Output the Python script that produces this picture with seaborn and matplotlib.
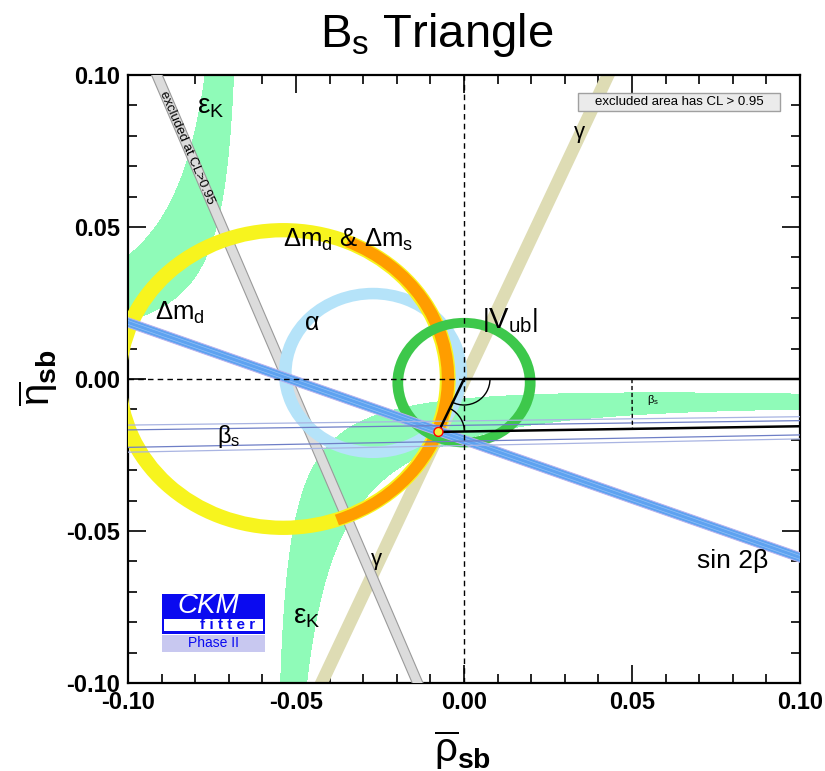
import numpy as np
import pandas as pd
import matplotlib
matplotlib.use("Agg")
import matplotlib.pyplot as plt
import seaborn as sns
from matplotlib.patches import Wedge, Rectangle, Arc, Ellipse, Polygon

# ---------------------------------------------------------------- data
ticks_major = [-0.10, -0.05, 0.00, 0.05, 0.10]
tick_labels = ["-0.10", "-0.05", "0.00", "0.05", "0.10"]
ticks_minor = [-0.09, -0.08, -0.07, -0.06, -0.04, -0.03, -0.02, -0.01,
               0.01, 0.02, 0.03, 0.04, 0.06, 0.07, 0.08, 0.09]

# best-fit apex of the Bs triangle and its far vertex
apex_rho, apex_eta = -0.0076, -0.0174
far_rho, far_eta = 1.0, 0.0

# ring constraints: centre rho, centre eta, inner radius, outer radius
dmd_ring = [-0.0538, 0.0, 0.0466, 0.0513]
dmds_ring = [-0.0538, 0.0, 0.0472, 0.0509]
dmds_span = [-71.0, 67.0]          # degrees covered by the Delta m_d & Delta m_s band
alpha_ring = [-0.0271, 0.0020, 0.0242, 0.0280]
vub_ring = [0.0, -0.0012, 0.0181, 0.0213]

# straight bands: centre-line end points and half widths
gamma_rho = [-0.0424, 0.0429]
gamma_eta = [-0.10, 0.10]
gamma_hw = 0.0021
sin2b_rho = [-0.10, 0.10]
sin2b_eta = [0.0186, -0.0587]
sin2b_hw = 0.0016
excl_rho = [-0.0914, -0.0138]
excl_eta = [0.10, -0.10]
excl_hw = 0.0016

# beta_s: slopes of the rays leaving the far vertex
betas_inner = [0.01522, 0.02044]
betas_outer = [0.01378, 0.02189]

# eps_K band centre line, both branches
eps_lo_rho = [-0.0491, -0.0491, -0.0485, -0.0455, -0.0399, -0.0330,
              -0.0152, 0.0048, 0.0345, 0.0991]
eps_lo_eta = [-0.0997, -0.0793, -0.0661, -0.0497, -0.0388, -0.0276,
              -0.0194, -0.0118, -0.0102, -0.0072]
eps_up_rho = [-0.0708, -0.0786, -0.0869, -0.0914, -0.0952]
eps_up_eta = [0.1000, 0.0720, 0.0500, 0.0391, 0.0283]

# colours
c_eps = "#8ffbb8"
c_dmd = "#f7f41e"
c_dmds = "#ff9d00"
c_alpha = "#b5e3f9"
c_vub = "#3dc84b"
c_gamma = "#dedcb4"
c_sin2b = "#5ea2f0"
c_sin2b_edge = "#b9b2ee"
c_sin2b_inner = "#93c0f6"
c_excl = "#dcdcdc"
c_excl_edge = "#9a9a9a"
c_logo = "#0a0af0"
c_logo_light = "#c8c8f0"

# ---------------------------------------------------------------- style
sns.set_theme(style="ticks")
plt.rcParams["font.family"] = ["Liberation Sans", "DejaVu Sans"]
plt.rcParams.update({
    "mathtext.fontset": "custom",
    "mathtext.rm": "Liberation Sans",
    "mathtext.it": "Liberation Sans:italic",
    "mathtext.bf": "Liberation Sans:bold",
    "mathtext.sf": "Liberation Sans",
    "mathtext.default": "rm",
    "axes.edgecolor": "black",
    "xtick.color": "black",
    "ytick.color": "black",
    "text.color": "black",
    "axes.grid": False,
})

fig = plt.figure(figsize=(8.25, 7.71), dpi=100)
ax = fig.add_axes([128 / 825, 1 - 683 / 771, 672 / 825, 608 / 771])
ax.set_xlim(-0.1, 0.1)
ax.set_ylim(-0.1, 0.1)
sx = ax.bbox.width / 0.2   # pixels per unit
sy = ax.bbox.height / 0.2

# ---------------------------------------------------------------- eps_K (conic fit of the centre line)
ex = np.r_[eps_lo_rho, eps_up_rho] * 10
ey = np.r_[eps_lo_eta, eps_up_eta] * 10
design = np.column_stack([ex ** 2, ex * ey, ey ** 2, ex, ey, np.ones_like(ex)])
coef = np.linalg.svd(design)[2][-1]


def conic(x, y):
    X, Y = 10 * x, 10 * y
    a, b, c, d, e, f = coef
    return a * X * X + b * X * Y + c * Y * Y + d * X + e * Y + f


def conic_grad_px(x, y):
    X, Y = 10 * x, 10 * y
    a, b, c, d, e, f = coef
    gx = 10 * (2 * a * X + b * Y + d) / sx
    gy = 10 * (b * X + 2 * c * Y + e) / sy
    return np.hypot(gx, gy)


delta = 13.0 * conic_grad_px(eps_lo_rho[0], eps_lo_eta[0])
gx_, gy_ = np.meshgrid(np.linspace(-0.102, 0.102, 1400), np.linspace(-0.102, 0.102, 1400))
ax.contourf(gx_, gy_, conic(gx_, gy_), levels=[-delta, delta], colors=[c_eps], zorder=1)


# ---------------------------------------------------------------- straight bands
def vertical_band(rho, eta, hw, fc, ec=None, z=2):
    poly = [(rho[0] - hw, eta[0]), (rho[1] - hw, eta[1]),
            (rho[1] + hw, eta[1]), (rho[0] + hw, eta[0])]
    ax.add_patch(Polygon(poly, closed=True, fc=fc, ec="none", zorder=z))
    if ec:
        for s in (-hw, hw):
            ax.plot([rho[0] + s, rho[1] + s], eta, color=ec, lw=0.8, zorder=z)


def horizontal_band(rho, eta, hw, fc, ec, inner, z=2):
    poly = [(rho[0], eta[0] - hw), (rho[1], eta[1] - hw),
            (rho[1], eta[1] + hw), (rho[0], eta[0] + hw)]
    ax.add_patch(Polygon(poly, closed=True, fc=fc, ec="none", zorder=z))
    for s in (-hw, hw):
        ax.plot(rho, [eta[0] + s, eta[1] + s], color=ec, lw=0.7, zorder=z)
    for s in (-0.4 * hw, 0.4 * hw):
        ax.plot(rho, [eta[0] + s, eta[1] + s], color=inner, lw=0.5, zorder=z)


vertical_band(gamma_rho, gamma_eta, gamma_hw, c_gamma, z=2)
vertical_band(excl_rho, excl_eta, excl_hw, c_excl, c_excl_edge, z=3)


# ---------------------------------------------------------------- rings
def ring(spec, fc, z, span=(0, 360)):
    cx, cy, rin, rout = spec
    ax.add_patch(Wedge((cx, cy), rout, span[0], span[1], width=rout - rin,
                       fc=fc, ec="none", zorder=z))


ring(alpha_ring, c_alpha, 3.5)
ring(dmd_ring, c_dmd, 4)
ring(dmds_ring, c_dmds, 5, dmds_span)
ring(vub_ring, c_vub, 7)

horizontal_band(sin2b_rho, sin2b_eta, sin2b_hw, c_sin2b, c_sin2b_edge, c_sin2b_inner, z=8)

# ---------------------------------------------------------------- beta_s rays from the far vertex
xr = np.array([-0.1, 0.1])
rows = []
for grp, slopes in (("inner", betas_inner), ("outer", betas_outer)):
    for i, s in enumerate(slopes):
        for x in xr:
            rows.append({"rho": x, "eta": far_eta - s * (far_rho - x), "ray": f"{grp}{i}", "grp": grp})
rays = pd.DataFrame(rows)
sns.lineplot(data=rays[rays.grp == "inner"], x="rho", y="eta", units="ray", estimator=None,
             color="#6e7ec6", lw=0.9, ax=ax, zorder=9)
sns.lineplot(data=rays[rays.grp == "outer"], x="rho", y="eta", units="ray", estimator=None,
             color="#a9b4e2", lw=0.9, ax=ax, zorder=9)

# ---------------------------------------------------------------- axes of the plane
ax.axvline(0.0, color="black", lw=1.0, ls=(0, (4, 3)), zorder=10)
ax.plot([-0.1, 0.0], [0.0, 0.0], color="black", lw=1.0, ls=(0, (4, 3)), zorder=10)

# ---------------------------------------------------------------- triangle
tri_rho = [0.0, far_rho, apex_rho, 0.0]
tri_eta = [0.0, far_eta, apex_eta, 0.0]
sns.lineplot(x=tri_rho, y=tri_eta, sort=False, estimator=None, color="black", lw=1.8,
             ax=ax, zorder=11)

o_px = ax.transData.transform((0.0, 0.0))
a_px = ax.transData.transform((apex_rho, apex_eta))
f_px = ax.transData.transform((far_rho, far_eta))
ang_oa = np.degrees(np.arctan2(a_px[1] - o_px[1], a_px[0] - o_px[0]))
ang_ao = np.degrees(np.arctan2(o_px[1] - a_px[1], o_px[0] - a_px[0]))
ang_af = np.degrees(np.arctan2(f_px[1] - a_px[1], f_px[0] - a_px[0]))
R = 26.0
ax.add_patch(Arc((0.0, 0.0), 2 * R / sx, 2 * R / sy, theta1=ang_oa, theta2=0.0,
                 color="black", lw=1.0, zorder=11))
ax.add_patch(Arc((apex_rho, apex_eta), 2 * R / sx, 2 * R / sy, theta1=ang_af, theta2=ang_ao,
                 color="black", lw=1.0, zorder=11))
ax.add_patch(Ellipse((apex_rho, apex_eta), 9 / sx, 9 / sy, fc="#f3f03c", ec="red",
                     lw=1.0, zorder=12))

# beta_s angle mark at the far vertex
bs = np.arctan2(far_eta - apex_eta, far_rho - apex_rho)
th = np.linspace(0.0, bs, 30)
ax.plot(far_rho - 0.95 * np.cos(th), far_eta - 0.95 * np.sin(th), color="black",
        lw=1.0, ls=(0, (3, 2)), zorder=11)

# ---------------------------------------------------------------- labels
lab = dict(zorder=13, va="baseline", ha="left")
ax.text(-0.0795, 0.0875, r"$ε_K$", fontsize=20, **lab)
ax.text(-0.0509, -0.0803, r"$ε_K$", fontsize=20, **lab)
ax.text(-0.0539, 0.0435, r"$Δm_d$ & $Δm_s$", fontsize=18.5, **lab)
ax.text(-0.0920, 0.0194, r"$Δm_d$", fontsize=18.5, **lab)
ax.text(-0.0452, 0.0161, "α", ha="center", fontsize=18, zorder=13, va="baseline")
ax.text(0.0054, 0.0168, r"$\left|V_{ub}\right|$", fontsize=21, **lab)
ax.text(0.0345, 0.0793, "γ", ha="center", fontsize=16, zorder=13, va="baseline")
ax.text(-0.0259, -0.0612, "γ", ha="center", fontsize=16, zorder=13, va="baseline")
ax.text(-0.0735, -0.0211, r"$β_s$", fontsize=17, **lab)
ax.text(0.0545, -0.0079, r"$β_s$", fontsize=8, **lab)
ax.text(0.0693, -0.0621, "sin 2β", fontsize=19, **lab)

# text running along the excluded band
e0 = ax.transData.transform((excl_rho[0], excl_eta[0]))
e1 = ax.transData.transform((excl_rho[1], excl_eta[1]))
rot = np.degrees(np.arctan2(e1[1] - e0[1], e1[0] - e0[0]))
ax.text(-0.0826, 0.0760, "excluded at CL>0.95", rotation=rot, rotation_mode="anchor",
        ha="center", va="center", fontsize=9.5, zorder=13)

# CL box
ax.add_patch(Rectangle((0.6696, 0.9408), 0.3006, 0.0296, transform=ax.transAxes,
                       fc="#ebebeb", ec="#a0a0a0", lw=1.0, zorder=14))
ax.text(0.8199, 0.9556, "excluded area has CL > 0.95", transform=ax.transAxes,
        ha="center", va="center", fontsize=9.5, zorder=15)

# CKMfitter logo
ax.add_patch(Rectangle((0.0506, 0.0806), 0.1533, 0.0658, transform=ax.transAxes,
                       fc=c_logo, ec="none", zorder=14))
ax.add_patch(Rectangle((0.0536, 0.0855), 0.1473, 0.0197, transform=ax.transAxes,
                       fc="white", ec="none", zorder=15))
ax.add_patch(Rectangle((0.0506, 0.0510), 0.1533, 0.0280, transform=ax.transAxes,
                       fc=c_logo_light, ec="none", zorder=14))
ax.text(0.119, 0.1265, "CKM", transform=ax.transAxes, ha="center", va="center",
        fontsize=20, style="italic", color="white", zorder=16)
ax.text(0.189, 0.0950, "f i t t e r", transform=ax.transAxes, ha="right", va="center",
        fontsize=11, fontweight="bold", color=c_logo, zorder=16)
ax.text(0.1265, 0.0655, "Phase II", transform=ax.transAxes, ha="center", va="center",
        fontsize=10, color=c_logo, zorder=16)

# ---------------------------------------------------------------- ticks, frame, titles
ax.set_xticks(ticks_major)
ax.set_yticks(ticks_major)
ax.set_xticklabels(tick_labels, fontweight="bold", fontsize=17)
ax.set_yticklabels(tick_labels, fontweight="bold", fontsize=17)
ax.set_xticks(ticks_minor, minor=True)
ax.set_yticks(ticks_minor, minor=True)
ax.tick_params(which="both", direction="in", top=True, right=True, width=1.2)
ax.tick_params(which="major", length=13, pad=6)
ax.tick_params(which="minor", length=6.5)
for sp in ax.spines.values():
    sp.set_linewidth(1.6)
    sp.set_color("black")
ax.set_xlabel("")
ax.set_ylabel("")

fig.text(437 / 825, 1 - 35 / 771, r"B$_\mathrm{s}$ Triangle", ha="center", va="center", fontsize=34)
fig.text(463 / 825, 1 - 750 / 771, r"$\overline{ρ}_{\mathbf{sb}}$", ha="center", va="center", fontsize=29)
fig.text(38 / 825, 1 - 378 / 771, r"$\overline{η}_{\mathbf{sb}}$", ha="center", va="center",
         rotation=90, fontsize=29)

fig.savefig("out.png", dpi=100, facecolor="white")
